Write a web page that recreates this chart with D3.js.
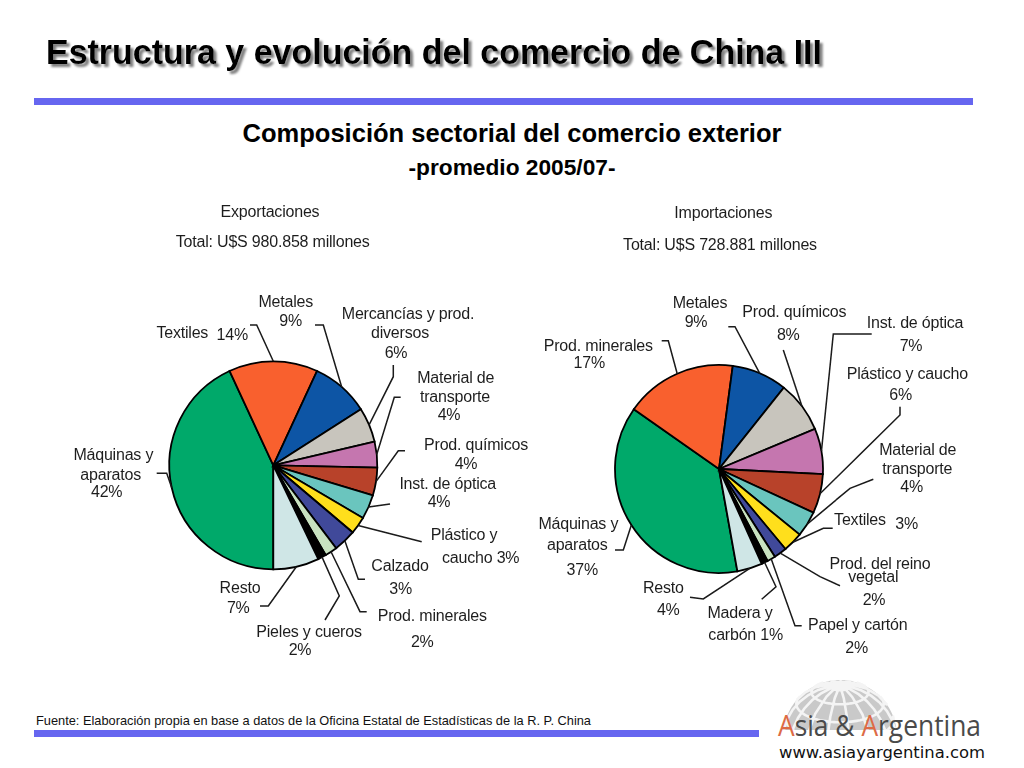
<!DOCTYPE html>
<html><head><meta charset="utf-8">
<script src="https://cdnjs.cloudflare.com/ajax/libs/d3/7.8.5/d3.min.js"></script>
<style>html,body{margin:0;padding:0;background:#fff}svg{display:block;font-family:"Liberation Sans",Arial,sans-serif}</style>
</head><body>
<script>
// ---- data ----
const sliceColors = ["#00A96B","#F9602F","#0A55A5","#C8C5BD","#C576AF","#B8432A","#6BC5BE","#FFDF1A","#3F4A9A","#C8E2C0","#000000","#CFE6E6"];
const exportCategories = ["Máquinas y aparatos","Textiles","Metales","Mercancías y prod. diversos","Material de transporte","Prod. químicos","Inst. de óptica","Plástico y caucho","Calzado","Prod. minerales","Pieles y cueros","Resto"];
const exportValues = [43,13.8,9,5.4,4,4.3,3.8,2.7,3.5,1.9,1.3,7.1];
const importCategories = ["Máquinas y aparatos","Prod. minerales","Metales","Prod. químicos","Inst. de óptica","Plástico y caucho","Material de transporte","Textiles","Prod. del reino vegetal","Papel y cartón","Madera y carbón","Resto"];
const importValues = [37.6,17.4,8.6,8,7.1,6.1,4,3.1,2,1.3,1,3.9];

// ---- layout (annotation placement, separate from the data) ----
const pieLayouts = [
 {values:exportValues,cats:exportCategories,cx:273.3,cy:465.3,r:104,start:180},
 {values:importValues,cats:importCategories,cx:719,cy:469,r:104,start:169.8}
];
const exportLeaders = [[[166.7,473.3],[156.7,473.3]],[[256.7,325],[250,325]],[[323.3,325],[315,325]],[[393.3,376.7],[393.3,365]],[[394.3,397.3],[400.7,397.3]],[[398.3,450.7],[405,450.7]],[[390,504]],[[421.7,541.7]],[[358.3,579.3],[365,579.3]],[[360,611.7],[366.7,611.7]],[[339.3,596],[325,620]],[[268.3,606],[260,606]]];
const importLeaders = [[[623.3,550],[615,550]],[[668.3,340.7],[661.7,340.7]],[[735,326.7],[728.3,326.7]],[[783.3,350]],[[833.3,334],[871.7,334]],[[900,415],[900,406.7]],[[850,488.3],[873.3,479.3]],[[823.3,528.3],[832.7,528.3]],[[820,576.7],[840,585.7]],[[795,625.7],[801.7,625.7]],[[776,586.7],[761.7,599.3]],[[703.3,599],[690,597.3]]];
const labelRows = [
 ["Exportaciones",270,216.7],["Total: U$S 980.858 millones",272.7,246.7],
 ["Metales",285.7,306.7],["9%",290.7,326],
 ["Mercancías y prod.",408,319.3],["diversos",400,338.3],["6%",396,358],
 ["Material de",455.7,382.7],["transporte",455,402],["4%",449,420],
 ["Prod. químicos",476,450],["4%",466,469.3],
 ["Inst. de óptica",447.7,489],["4%",439,506.7],
 ["Plástico y",464,540],["caucho 3%",480.7,563.3],
 ["Calzado",400,571],["3%",400.7,594.3],
 ["Prod. minerales",432.3,621],["2%",422.3,647.3],
 ["Pieles y cueros",309,636.7],["2%",300,655],
 ["Resto",240,592.7],["7%",238.3,612.7],
 ["Máquinas y",113.3,460],["aparatos",110.7,480],["42%",106.7,497.3],
 ["Textiles",182.3,338.3],["14%",232.3,340],
 ["Importaciones",723.3,218.3],["Total: U$S 728.881 millones",720,250],
 ["Metales",700,308.3],["9%",696,327.3],
 ["Prod. químicos",794.3,317.3],["8%",788.3,340],
 ["Inst. de óptica",915,328.3],["7%",911,350.7],
 ["Plástico y caucho",907.3,379.3],["6%",900.7,400],
 ["Material de",917.7,455],["transporte",917.3,474.3],["4%",911.7,491.7],
 ["Textiles",860,525],["3%",906.7,529],
 ["Prod. del reino",880,569.3],["vegetal",873.3,581.7],["2%",874,605],
 ["Papel y cartón",857.7,630],["2%",856.7,652.7],
 ["Madera y",740,617.7],["carbón 1%",745.7,640],
 ["Resto",663.3,592.7],["4%",668.3,615],
 ["Máquinas y",578.3,529],["aparatos",577.3,550],["37%",582.3,575],
 ["Prod. minerales",598.3,351],["17%",589.3,368.3]
];

const svg = d3.select("body").append("svg").attr("width",1024).attr("height",768);
const defs = svg.append("defs");
defs.append("filter").attr("id","soft").append("feGaussianBlur").attr("stdDeviation",0.4);
const shadow = defs.append("filter").attr("id","shadow").attr("x","-5%").attr("y","-30%").attr("width","110%").attr("height","170%");
shadow.append("feDropShadow").attr("dx",3).attr("dy",3).attr("stdDeviation",0.9).attr("flood-color","#808080");

// ---- header ----
svg.append("text").attr("x",46).attr("y",64).attr("fill","#000").attr("filter","url(#shadow)")
   .attr("font-size",35).attr("font-weight","bold")
   .attr("textLength",776).attr("lengthAdjust","spacingAndGlyphs").text("Estructura y evolución del comercio de China III");
svg.append("rect").attr("x",34).attr("y",98).attr("width",939).attr("height",7).attr("fill","#6666F0");
svg.append("text").attr("x",512).attr("y",142).attr("text-anchor","middle").attr("font-size",25.5).attr("font-weight","bold")
  .attr("textLength",539).attr("lengthAdjust","spacingAndGlyphs").text("Composición sectorial del comercio exterior");
svg.append("text").attr("x",512).attr("y",175).attr("text-anchor","middle").attr("font-size",22).attr("font-weight","bold")
  .attr("textLength",207).attr("lengthAdjust","spacingAndGlyphs").text("-promedio 2005/07-");

// ---- pies ----
const toRad = d=>d*Math.PI/180;
const leadersByPie = [exportLeaders,importLeaders];
const chartG = svg.append("g").attr("filter","url(#soft)");
pieLayouts.forEach((p,i)=>{
  const pie = d3.pie().sort(null).startAngle(toRad(p.start)).endAngle(toRad(p.start+360)).value(d=>d);
  const arc = d3.arc().innerRadius(0).outerRadius(p.r);
  const edge = d3.arc().innerRadius(p.r).outerRadius(p.r);
  const arcs = pie(p.values);
  const g = chartG.append("g").attr("transform",`translate(${p.cx},${p.cy})`);
  const line = d3.line();
  chartG.selectAll(null).data(arcs).join("path").attr("fill","none").attr("stroke","#1a1a1a").attr("stroke-width",1.5)
    .attr("d",(d,j)=>{const c=edge.centroid(d);return line([[p.cx+c[0],p.cy+c[1]],...leadersByPie[i][j]]);});
  g.selectAll("path").data(arcs).join("path").attr("d",arc)
    .attr("fill",(d,j)=>sliceColors[j]).attr("stroke","#000").attr("stroke-width",1.8)
    .append("title").text((d,j)=>p.cats[j]);
});
chartG.selectAll(null).data(labelRows).join("text")
  .attr("x",d=>d[1]).attr("y",d=>d[2]).attr("text-anchor","middle").attr("font-size",16).attr("letter-spacing",-0.2)
  .attr("fill","#1f1f1f").text(d=>d[0]);

// ---- footer ----
svg.append("text").attr("x",36).attr("y",725).attr("font-size",12.4).attr("fill","#111")
  .attr("textLength",555).attr("lengthAdjust","spacingAndGlyphs")
  .text("Fuente: Elaboración propia en base a datos de la Oficina Estatal de Estadísticas de la R. P. China");
svg.append("rect").attr("x",34).attr("y",730).attr("width",725).attr("height",7).attr("fill","#6666F0");

// ---- logo ----
const logo = svg.append("g");
defs.append("clipPath").attr("id","globeClip").append("rect").attr("x",770).attr("y",680).attr("width",220).attr("height",50);
const proj = d3.geoOrthographic().scale(57).translate([840,737]).rotate([10,-25]).clipAngle(90);
const gp = d3.geoPath(proj);
const gl = logo.append("g").attr("clip-path","url(#globeClip)").attr("filter","url(#soft)");
gl.append("path").datum({type:"Sphere"}).attr("d",gp).attr("fill","#c9c9c9");
gl.append("path").datum(d3.geoGraticule().step([24,20])()).attr("d",gp).attr("fill","none").attr("stroke","#f4f4f4").attr("stroke-width",2.6);
const brand = logo.append("text").attr("x",778).attr("y",736).attr("font-size",29).style("font-family",`"Open Sans",sans-serif`).attr("fill","#4a4a4a")
  .attr("textLength",203).attr("lengthAdjust","spacingAndGlyphs");
brand.append("tspan").attr("fill","#DD6B45").text("A");
brand.append("tspan").text("sia & ");
brand.append("tspan").attr("fill","#DD6B45").text("A");
brand.append("tspan").text("rgentina");
logo.append("text").attr("x",779).attr("y",758).attr("font-size",16).style("font-family",`"DejaVu Sans",sans-serif`).attr("fill","#111")
  .attr("textLength",206).attr("lengthAdjust","spacingAndGlyphs").text("www.asiayargentina.com");
</script>
</body></html>
